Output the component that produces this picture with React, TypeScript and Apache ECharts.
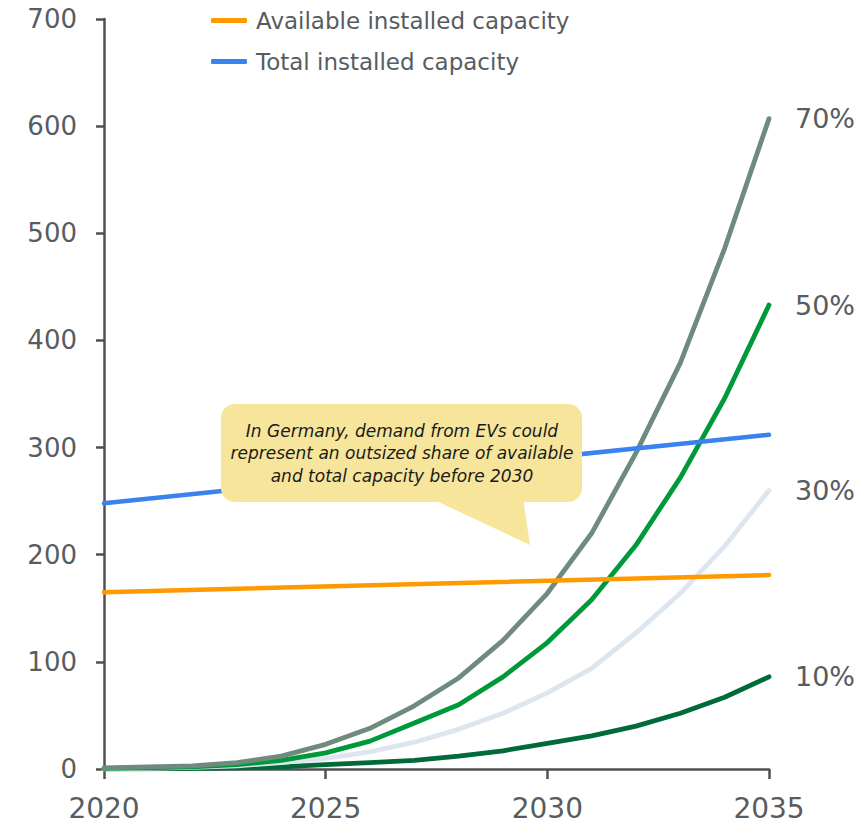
import React, { useEffect, useRef } from "react";
import * as echarts from "echarts";

const years = [2020, 2021, 2022, 2023, 2024, 2025, 2026, 2027, 2028, 2029, 2030, 2031, 2032, 2033, 2034, 2035];
const share70 = [1, 2, 3, 6, 12, 23, 38, 59, 85, 120, 164, 220, 295, 379, 486, 607];
const share50 = [0.5, 1, 2, 4, 8, 15, 26, 43, 60, 86, 118, 158, 209, 272, 346, 433];
const share30 = [0, 0.5, 1.5, 3, 6, 10, 16, 25, 37, 52, 71, 94, 127, 164, 208, 260];
const share10 = [0, 0.2, 0.5, 1, 2, 4, 6, 8, 12, 17, 24, 31, 40, 52, 67, 86];
const capacityYears = [2020, 2035];
const availableCapacity = [165, 181];
const totalCapacity = [248, 312];
const shareNames = ["70%", "50%", "30%", "10%"];
const legendNames = ["Available installed capacity", "Total installed capacity"];
const calloutText = [
  "In Germany, demand from EVs could",
  "represent an outsized share of available",
  "and total capacity before 2030",
];

const FONT = "'DejaVu Sans', sans-serif";
const LABEL = "#575c61";
const AXIS = "#505050";

export default function App() {
  const ref = useRef<HTMLDivElement>(null);
  useEffect(() => {
    if (!ref.current) return;
    const chart = echarts.init(ref.current, null, { renderer: "svg" });
    const pair = (xs: number[], ys: number[]) => xs.map((x, i) => [x, ys[i]]);
    const curve = (name: string, vals: number[], color: string) => ({
      name,
      type: "line",
      data: pair(years, vals),
      symbol: "none",
      lineStyle: { color, width: 4.8, cap: "round", join: "round" },
      itemStyle: { color },
      endLabel: {
        show: true,
        formatter: name,
        distance: 26,
        fontSize: 27,
        color: LABEL,
        fontFamily: FONT,
      },
      z: 2,
    });
    chart.setOption({
      animation: false,
      textStyle: { fontFamily: FONT },
      grid: { left: 104, right: 95, top: 19, bottom: 60, containLabel: false },
      legend: {
        data: legendNames,
        orient: "vertical",
        left: 206,
        top: 4,
        icon: "roundRect",
        itemWidth: 36,
        itemHeight: 5,
        itemGap: 18,
        textStyle: { fontSize: 23, color: LABEL, fontFamily: FONT, padding: [0, 0, 0, 4] },
      },
      xAxis: {
        type: "value",
        min: 2020,
        max: 2035,
        interval: 5,
        splitLine: { show: false },
        axisLine: { lineStyle: { color: AXIS, width: 2.5 } },
        axisTick: { show: true, length: 10, lineStyle: { color: AXIS, width: 2.5 } },
        axisLabel: { fontSize: 28, color: LABEL, margin: 25, fontFamily: FONT, formatter: (v: number) => String(v) },
      },
      yAxis: {
        type: "value",
        min: 0,
        max: 700,
        interval: 100,
        splitLine: { show: false },
        axisLine: { show: true, lineStyle: { color: AXIS, width: 2.5 } },
        axisTick: { show: true, length: 8, lineStyle: { color: AXIS, width: 2.5 } },
        axisLabel: { fontSize: 26, color: LABEL, margin: 27, fontFamily: FONT },
      },
      series: [
        curve(shareNames[3], share10, "#006a38"),
        curve(shareNames[2], share30, "#dde6ee"),
        curve(shareNames[1], share50, "#00993a"),
        curve(shareNames[0], share70, "#6e8b7d"),
        {
          name: legendNames[0],
          type: "line",
          data: pair(capacityYears, availableCapacity),
          symbol: "none",
          lineStyle: { color: "#ff9900", width: 4.5, cap: "round" },
          itemStyle: { color: "#ff9900" },
          z: 3,
        },
        {
          name: legendNames[1],
          type: "line",
          data: pair(capacityYears, totalCapacity),
          symbol: "none",
          lineStyle: { color: "#3a82ee", width: 4.5, cap: "round" },
          itemStyle: { color: "#3a82ee" },
          z: 3,
        },
      ],
      graphic: [
        {
          type: "polygon",
          z: 100,
          shape: { points: [[430, 498], [523, 498], [530, 545]] },
          style: { fill: "#f7e59c" },
        },
        {
          type: "rect",
          z: 101,
          shape: { x: 221, y: 404, width: 361, height: 98, r: 14 },
          style: { fill: "#f7e59c" },
        },
        {
          type: "text",
          z: 102,
          x: 402,
          y: 453,
          style: {
            text: calloutText.join("\n"),
            fontSize: 17,
            fontStyle: "italic",
            fontFamily: FONT,
            fill: "#1a1a1a",
            align: "center",
            verticalAlign: "middle",
            lineHeight: 22.5,
          },
        },
      ],
    });
    return () => chart.dispose();
  }, []);
  return (
    <div
      ref={ref}
      style={{ position: "fixed", left: 0, top: 0, width: 864, height: 829, background: "#fff" }}
    />
  );
}
